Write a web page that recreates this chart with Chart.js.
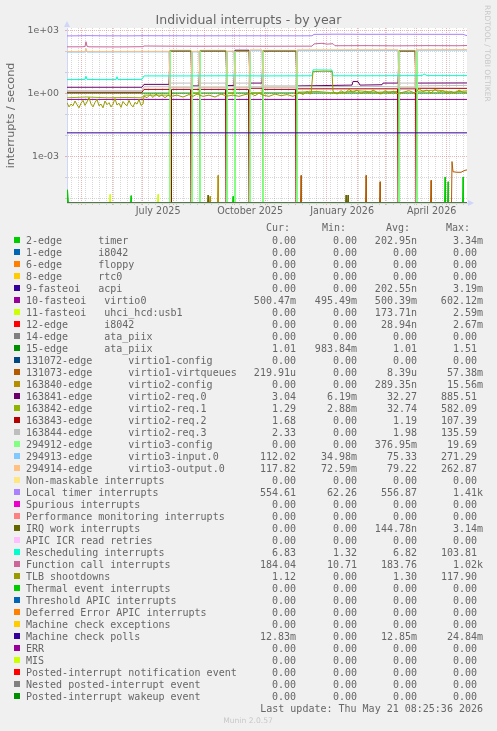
<!DOCTYPE html>
<html>
<head>
<meta charset="utf-8">
<script src="https://cdn.jsdelivr.net/npm/chart.js@4.4.1/dist/chart.umd.min.js"></script>
<style>
  html, body { margin: 0; padding: 0; background: #F0F0F0; }
  #wrap { width: 497px; height: 731px; }
</style>
</head>
<body>
<div id="wrap"><canvas id="myChart" width="497" height="731"></canvas></div>
<script>
// graph covers 400 days ending at the last update
let DAY = 86400000;
let startMs = Date.UTC(2025, 3, 16, 8, 25, 36);
let dayOf = (y, m, d) => (Date.UTC(y, m, d) - startMs) / DAY;

let monthStarts = [[2025,4],[2025,5],[2025,6],[2025,7],[2025,8],[2025,9],[2025,10],[2025,11],[2026,0],[2026,1],[2026,2],[2026,3],[2026,4]];
let labelMonths = [[2025,6,'July 2025'],[2025,9,'October 2025'],[2026,0,'January 2026'],[2026,3,'April 2026']];

let yMin = 5.85e-6;
let yMax = 1259;
let yDecades = [-5,-4,-3,-2,-1,0,1,2,3];

let names = [
  "2-edge      timer", "1-edge      i8042", "6-edge      floppy", "8-edge      rtc0",
  "9-fasteoi   acpi", "10-fasteoi   virtio0", "11-fasteoi   uhci_hcd:usb1", "12-edge      i8042",
  "14-edge      ata_piix", "15-edge      ata_piix", "131072-edge      virtio1-config",
  "131073-edge      virtio1-virtqueues", "163840-edge      virtio2-config",
  "163841-edge      virtio2-req.0", "163842-edge      virtio2-req.1", "163843-edge      virtio2-req.2",
  "163844-edge      virtio2-req.3", "294912-edge      virtio3-config", "294913-edge      virtio3-input.0",
  "294914-edge      virtio3-output.0", "Non-maskable interrupts", "Local timer interrupts",
  "Spurious interrupts", "Performance monitoring interrupts", "IRQ work interrupts",
  "APIC ICR read retries", "Rescheduling interrupts", "Function call interrupts", "TLB shootdowns",
  "Thermal event interrupts", "Threshold APIC interrupts", "Deferred Error APIC interrupts",
  "Machine check exceptions", "Machine check polls", "ERR", "MIS",
  "Posted-interrupt notification event", "Nested posted-interrupt event", "Posted-interrupt wakeup event"
];

let colors = ['#00CC00','#0066B3','#FF8000','#FFCC00','#330099','#990099','#CCFF00','#FF0000','#808080','#008F00',
  '#00487D','#B35A00','#B38F00','#6B006B','#8FB300','#B30000','#BEBEBE','#80FF80','#80C9FF','#FFC080',
  '#FFE680','#AA80FF','#EE00CC','#FF8080','#666600','#FFBFFF','#00FFCC','#CC6699','#999900',
  '#00CC00','#0066B3','#FF8000','#FFCC00','#330099','#990099','#CCFF00','#FF0000','#808080','#008F00'];

let curVals = ['0.00','0.00','0.00','0.00','0.00','500.47m','0.00','0.00','0.00','1.01','0.00','219.91u','0.00','3.04','1.29','1.68','2.33','0.00','112.02','117.82','0.00','554.61','0.00','0.00','0.00','0.00','6.83','184.04','1.12','0.00','0.00','0.00','0.00','12.83m','0.00','0.00','0.00','0.00','0.00'];
let minVals = ['0.00','0.00','0.00','0.00','0.00','495.49m','0.00','0.00','0.00','983.84m','0.00','0.00','0.00','6.19m','2.88m','0.00','0.00','0.00','34.98m','72.59m','0.00','62.26','0.00','0.00','0.00','0.00','1.32','10.71','0.00','0.00','0.00','0.00','0.00','0.00','0.00','0.00','0.00','0.00','0.00'];
let avgVals = ['202.95n','0.00','0.00','0.00','202.55n','500.39m','173.71n','28.94n','0.00','1.01','0.00','8.39u','289.35n','32.27','32.74','1.19','1.98','376.95m','75.33','79.22','0.00','556.87','0.00','0.00','144.78n','0.00','6.82','183.76','1.30','0.00','0.00','0.00','0.00','12.85m','0.00','0.00','0.00','0.00','0.00'];
let maxVals = ['3.34m','0.00','0.00','0.00','3.19m','602.12m','2.59m','2.67m','0.00','1.51','0.00','57.38m','15.56m','885.51','582.09','107.39','135.59','19.69','271.29','262.87','0.00','1.41k','0.00','0.00','3.14m','0.00','103.81','1.02k','117.90','0.00','0.00','0.00','0.00','24.84m','0.00','0.00','0.00','0.00','0.00'];

// [day, value]
let zero = [[0,0],[400,0]];
let timer = [[0,0],[0.5,2.5e-5],[1.5,0],[63.5,0],[64,1.3e-5],[64.5,0],[124.5,0],[125,1.2e-5],[125.5,0],[165.5,0],[166,1.2e-5],[166.5,0],[377.5,0],[378,1e-4],[378.5,0],[380.5,0],[381,6e-5],[381.5,0],[395.5,0],[396,1e-4],[396.5,0],[400,0]];
let virtio0 = [[0,0.5],[100,0.5],[200,0.5],[300,0.5],[400,0.5]];
let usb1 = [[0,0],[42.5,0],[43,1.5e-5],[43.5,0],[90.5,0],[91,1.5e-5],[91.5,0],[298.5,0],[299,1.1e-5],[299.5,0],[400,0]];
let ataPiix15 = [[0,1.0],[100,1.0],[200,1.01],[300,1.01],[400,1.01]];
let virtqueues = [[0,0],[233.5,0],[234,1.2e-4],[234.5,0],[298.5,0],[299,1.2e-4],[299.5,0],[312.5,0],[313,6e-5],[313.5,0],[363.5,0],[364,7e-5],[364.5,0],[384.5,0],[385,5.5e-4],[386,1.8e-4],[390,1.7e-4],[394,1.7e-4],[396,1.9e-4],[398,2.1e-4],[400,2.2e-4]];
let virtio2Config = [[0,0],[142.5,0],[143,1.2e-5],[143.5,0],[150.5,0],[151,1.2e-4],[151.5,0],[159.5,0],[160,9e-5],[160.5,0],[400,0]];
let req0 = [[0,1.9],[40,1.9],[75,1.9],[77,2.6],[102,2.6],[103,100],[124,100],[125,2.2],[132,2.2],[133,100],[159,100],[160,2.3],[167,2.3],[168,110],[182,110],[183,3.0],[195,3.0],[196,100],[229,100],[230,2.2],[260,2.3],[285,2.4],[286,3.6],[291,3.5],[293,2.4],[315,2.5],[316,3.0],[331,3.0],[332,100],[348,100],[349,3.0],[400,3.04]];
let req1 = [[0,0.6],[20,0.65],[40,0.6],[60,0.62],[75,0.6],[77,0.8],[102,0.8],[103,108],[124,108],[125,1.0],[132,1.0],[133,108],[159,108],[160,1.0],[167,1.0],[168,95],[182,95],[183,1.0],[195,1.0],[196,108],[229,108],[230,1.1],[250,1.2],[270,1.0],[290,1.3],[310,1.1],[331,1.2],[332,108],[348,108],[349,1.2],[370,1.4],[385,1.1],[400,1.29]];
let req2 = [[0,1.1],[75,1.1],[77,1.5],[103.5,1.5],[104,0],[104.5,1.5],[123.5,1.5],[124,0],[124.5,1.5],[132.5,1.5],[133,0],[133.5,1.5],[158.5,1.5],[159,0],[159.5,1.5],[181.5,1.5],[182,0],[182.5,1.7],[195.5,1.7],[196,0],[196.5,1.5],[228.5,1.5],[229,0],[229.5,1.6],[280,1.6],[330.5,1.6],[331,0],[331.5,1.6],[348.5,1.6],[349,0],[349.5,1.7],[400,1.68]];
let req3 = [[0,1.3],[75,1.3],[77,2.0],[102,2.0],[103,3.0],[124,3.0],[125,2.0],[132,2.0],[133,3.0],[159,3.0],[160,2.0],[167,2.0],[168,3.0],[182,3.0],[183,2.0],[195,2.0],[196,2.2],[229,2.2],[230,2.0],[300,2.1],[331,2.0],[332,3.0],[348,3.0],[349,2.2],[400,2.33]];
let virtio3Config = [[0,0],[102.5,0],[103,95],[103.5,0],[124.5,0],[125,95],[125.5,0],[132.5,0],[133,95],[133.5,0],[159.5,0],[160,95],[160.5,0],[167.5,0],[168,95],[168.5,0],[182.5,0],[183,95],[183.5,0],[195.5,0],[196,95],[196.5,0],[229.5,0],[230,95],[230.5,0],[331.5,0],[332,95],[332.5,0],[349.5,0],[350,95],[350.5,0],[400,0]];
let input0 = [[0,90],[18,90],[19,120],[20,90],[76,92],[102,92],[103,1.8],[124,1.8],[125,92],[132,92],[133,1.8],[159,1.8],[160,95],[167,95],[168,1.8],[182,1.8],[183,105],[195,105],[196,1.8],[229,1.8],[230,105],[300,108],[331,108],[332,1.8],[348,1.8],[349,110],[400,112]];
let output0 = [[0,95],[18,96],[19,135],[20,96],[76,97],[102,98],[103,2],[124,2],[125,98],[132,98],[133,2],[159,2],[160,100],[167,100],[168,2],[182,2],[183,115],[195,115],[196,2],[229,2],[230,115],[331,116],[332,2],[348,2],[349,116],[400,118]];
let localTimer = [[0,530],[10,535],[20,545],[30,540],[40,535],[60,532],[76,540],[100,538],[130,535],[160,537],[200,536],[230,534],[245,536],[247,625],[270,640],[300,630],[330,635],[360,630],[396,630],[399,560],[400,555]];
let irqWork = [[0,0],[140.5,0],[141,1.4e-5],[141.5,0],[278.5,0],[279,1.4e-5],[279.5,0],[280.5,0],[281,1.4e-5],[281.5,0],[400,0]];
let resched = [[0,4.4],[10,4.4],[18,4.5],[19,6.3],[20,4.5],[30,4.4],[49,4.4],[50,6.0],[51,4.4],[75,4.5],[77,6.6],[120,6.6],[160,6.7],[200,6.6],[245,6.7],[246,12.8],[265,12.5],[266,6.7],[300,6.7],[355,6.8],[357,8.2],[360,6.8],[400,6.8]];
let funcCall = [[0,160],[15,160],[18,165],[19,280],[20,170],[22,160],[50,158],[76,162],[77,175],[100,172],[130,170],[160,172],[200,170],[245,172],[247,220],[255,235],[260,215],[266,225],[268,180],[300,182],[330,178],[360,182],[390,180],[400,184]];
let tlb = [[0,0.35],[2,0.22],[4,0.3],[6,0.25],[8,0.42],[10,0.28],[12,0.2],[14,0.33],[16,0.45],[18,0.26],[20,0.38],[22,0.62],[24,0.3],[26,0.22],[28,0.36],[30,0.5],[32,0.25],[34,0.3],[36,0.2],[38,0.42],[40,0.28],[42,0.35],[44,0.22],[46,0.3],[48,0.55],[50,0.27],[52,0.33],[54,0.21],[56,0.4],[58,0.3],[60,0.25],[62,0.45],[64,0.28],[66,0.22],[68,0.36],[70,0.3],[72,0.5],[74,0.26],[76,0.3],[77,0.72],[80,0.6],[83,0.85],[86,0.62],[89,0.9],[92,0.68],[95,0.82],[98,0.6],[101,0.78],[104,0.7],[110,0.8],[116,0.65],[122,0.85],[126,0.7],[130,0.9],[136,0.7],[142,0.8],[148,0.65],[154,0.9],[160,0.72],[166,0.8],[172,0.7],[178,0.85],[184,0.95],[188,0.75],[192,1.0],[196,0.8],[202,0.7],[208,0.9],[214,0.75],[220,0.85],[226,0.7],[232,1.1],[236,0.85],[240,1.2],[244,0.9],[246,10.5],[256,11],[265,10.8],[266,1.2],[270,0.9],[274,1.3],[278,1.0],[282,1.5],[286,1.1],[290,1.4],[294,0.95],[298,1.2],[302,1.0],[306,1.4],[310,1.1],[314,0.9],[318,1.3],[322,1.0],[326,1.2],[330,0.95],[336,1.1],[342,1.3],[348,1.0],[352,1.6],[356,1.2],[360,1.4],[364,1.0],[368,1.5],[372,1.1],[376,1.3],[380,0.95],[384,1.2],[388,1.0],[392,1.4],[396,1.1],[400,1.12]];
let mcePolls = [[0,0.0128],[100,0.0128],[200,0.0128],[300,0.0128],[400,0.0128]];

let series = [timer, zero, zero, zero, zero, virtio0, usb1, zero, zero, ataPiix15, zero, virtqueues, virtio2Config,
  req0, req1, req2, req3, virtio3Config, input0, output0, zero, localTimer, zero, zero, irqWork, zero,
  resched, funcCall, tlb, zero, zero, zero, zero, mcePolls, zero, zero, zero, zero, zero];

// x grid: weekly minor, monthly major, labels centred in their month
let xTicks = [];
let majors = monthStarts.map(m => dayOf(m[0], m[1], 1));
for (let d = dayOf(2025, 3, 21); d <= 400; d += 7) {
  if (!majors.some(m => Math.abs(m - d) < 0.6)) xTicks.push({v: d, kind: 'minor', label: ''});
}
majors.forEach(v => { if (v >= 0 && v <= 400) xTicks.push({v: v, kind: 'major', label: ''}); });
labelMonths.forEach(l => {
  let mid = (dayOf(l[0], l[1], 1) + dayOf(l[0], l[1] + 1, 1)) / 2;
  xTicks.push({v: mid, kind: 'label', label: l[2]});
});
xTicks.sort((a, b) => a.v - b.v);

let gridGray = 'rgba(150,150,150,0.38)';
let gridRed = 'rgba(225,90,90,0.45)';
let axisColor = '#CFD6F8';
let fontColor = '#666666';

let datasets = series.map((s, i) => ({
  label: names[i],
  data: s.map(p => ({x: p[0], y: p[1] > yMin ? p[1] : yMin})),
  borderColor: colors[i],
  backgroundColor: colors[i],
  borderWidth: 1,
  pointRadius: 0,
  tension: 0,
  fill: false,
  order: series.length - i
}));

let munin = {
  id: 'munin',
  beforeDraw(chart) {
    let c = chart.ctx, a = chart.chartArea;
    c.save();
    c.fillStyle = '#F0F0F0';
    c.fillRect(0, 0, chart.width, chart.height);
    c.fillStyle = '#FFFFFF';
    c.fillRect(a.left, a.top, a.right - a.left, a.bottom - a.top);
    c.restore();
  },
  afterDraw(chart) {
    let c = chart.ctx, a = chart.chartArea;
    c.save();
    // arrows
    c.fillStyle = axisColor;
    c.beginPath();
    c.moveTo(a.left - 3, a.top - 1); c.lineTo(a.left + 3, a.top - 1); c.lineTo(a.left, a.top - 7);
    c.closePath(); c.fill();
    c.beginPath();
    c.moveTo(a.right + 1, a.bottom - 3); c.lineTo(a.right + 1, a.bottom + 3); c.lineTo(a.right + 7, a.bottom);
    c.closePath(); c.fill();

    // title
    c.fillStyle = fontColor;
    c.font = '12.5px "DejaVu Sans"';
    c.textAlign = 'center';
    c.textBaseline = 'alphabetic';
    c.fillText('Individual interrupts - by year', 248.5, 24);

    // watermark
    c.save();
    c.translate(484.5, 5);
    c.rotate(Math.PI / 2);
    c.fillStyle = '#C8C8C8';
    c.font = '7.5px "DejaVu Sans"';
    c.textAlign = 'left';
    c.fillText('RRDTOOL / TOBI OETIKER', 0, 0);
    c.restore();

    // legend table
    c.font = '10px "DejaVu Sans Mono"';
    c.fillStyle = fontColor;
    c.textAlign = 'right';
    c.fillText('Cur:', 290, 231);
    c.fillText('Min:', 346, 231);
    c.fillText('Avg:', 410, 231);
    c.fillText('Max:', 470, 231);
    names.forEach((n, i) => {
      let y = 243.5 + 12 * i;
      c.fillStyle = colors[i];
      c.fillRect(14, y - 6.5, 6, 6);
      c.fillStyle = fontColor;
      c.textAlign = 'left';
      c.fillText(n, 26, y);
      c.textAlign = 'right';
      c.fillText(curVals[i], 296, y);
      c.fillText(minVals[i], 357, y);
      c.fillText(avgVals[i], 417, y);
      let hasUnit = /[a-z]$/i.test(maxVals[i]);
      c.fillText(maxVals[i], hasUnit ? 483 : 477, y);
    });
    c.textAlign = 'right';
    c.fillText('Last update: Thu May 21 08:25:36 2026', 483, 711.5);

    c.fillStyle = '#C8C8C8';
    c.font = '7.6px "DejaVu Sans"';
    c.textAlign = 'center';
    c.fillText('Munin 2.0.57', 248, 723);
    c.restore();
  }
};

let ctx = document.getElementById('myChart').getContext('2d');
let myChart = new Chart(ctx, {
  type: 'line',
  data: { datasets: datasets },
  options: {
    responsive: false,
    animation: false,
    events: [],
    layout: { padding: { left: 0, top: 28, right: 30, bottom: 508 } },
    plugins: { legend: { display: false }, tooltip: { enabled: false } },
    scales: {
      x: {
        type: 'linear',
        min: 0,
        max: 400,
        afterBuildTicks: (s) => { s.ticks = xTicks.map(t => ({value: t.v})); },
        afterFit: (s) => { s.height = 20; },
        ticks: {
          autoSkip: false,
          maxRotation: 0,
          padding: 1,
          color: fontColor,
          font: { family: 'DejaVu Sans', size: 9.6 },
          callback: (v, i) => xTicks[i] ? xTicks[i].label : ''
        },
        grid: {
          tickLength: 2,
          color: (c) => {
            let t = xTicks[c.index];
            if (!t || t.kind === 'label') return 'rgba(0,0,0,0)';
            return t.kind === 'major' ? gridRed : gridGray;
          }
        },
        border: { display: true, color: axisColor, width: 1, dash: [1, 1] }
      },
      y: {
        type: 'logarithmic',
        min: yMin,
        max: yMax,
        afterBuildTicks: (s) => { s.ticks = yDecades.map(k => ({value: Number('1e' + k)})); },
        afterFit: (s) => { s.width = 67; },
        ticks: {
          autoSkip: false,
          padding: 6,
          color: fontColor,
          font: { family: 'DejaVu Sans', size: 9.4 },
          callback: (v, i) => {
            let k = yDecades[i];
            if (k % 3 !== 0) return '';
            return '1e' + (k < 0 ? '-' : '+') + String(Math.abs(k)).padStart(2, '0');
          }
        },
        grid: {
          tickLength: 2,
          color: (c) => (yDecades[c.index] % 3 === 0 ? gridRed : gridGray)
        },
        border: { display: true, color: axisColor, width: 1, dash: [1, 1] },
        title: {
          display: true,
          text: 'interrupts / second',
          color: fontColor,
          font: { family: 'DejaVu Sans', size: 11.2 },
          padding: { top: 4, bottom: 0 }
        }
      }
    }
  },
  plugins: [munin]
});
</script>
</body>
</html>
